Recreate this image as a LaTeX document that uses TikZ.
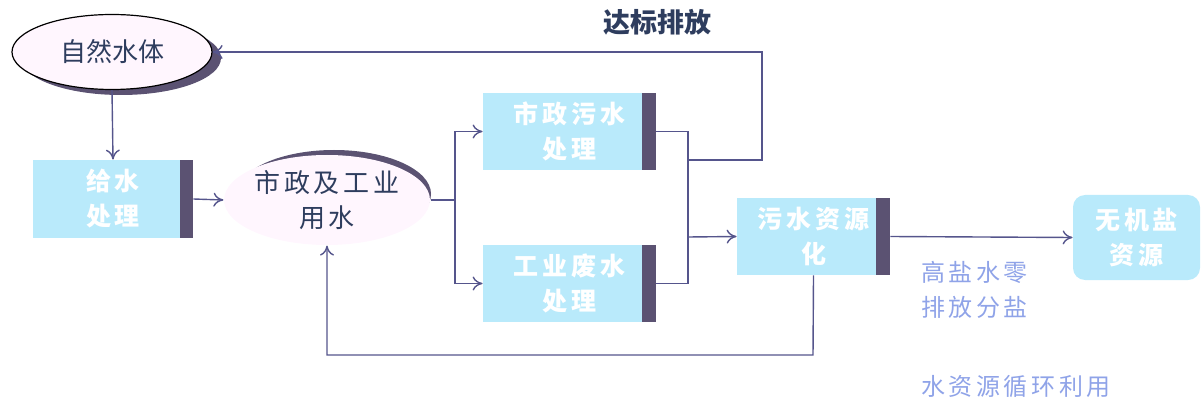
\documentclass[tikz,border=0pt]{standalone}
\usepackage{fontspec}
\setmainfont{Noto Sans CJK SC}
\newfontfamily\spaced{Noto Sans CJK SC}[LetterSpace=15]
\usetikzlibrary{shapes.geometric,arrows.meta}
\definecolor{boxc}{HTML}{B9EAFB}
\definecolor{shadc}{HTML}{5B5272}
\definecolor{linec}{HTML}{55558C}
\definecolor{labc}{HTML}{2E3D5E}
\definecolor{lblue}{HTML}{8FA3E8}
\definecolor{ellc}{HTML}{FFF6FE}
\tikzset{
  procbox/.style={rectangle, fill=boxc, inner sep=0pt, align=center, text=white,
    font=\spaced\fontsize{12.5}{17.5}\selectfont\bfseries},
  ellnode/.style={ellipse, fill=ellc, draw=black, line width=0.6pt, inner sep=0pt, align=center,
    text=labc, font=\fontsize{13}{17.5}\selectfont},
  conn/.style={draw=linec, line width=0.7pt},
  arr/.style={conn, -{To[length=5pt,width=7pt]}},
  note/.style={text=lblue, align=left, font=\spaced\fontsize{12}{17.5}\selectfont},
}
\begin{document}
\begin{tikzpicture}[x=0.5pt,y=-0.5pt]
\useasboundingbox (0,0) rectangle (1203,406);
% natural water body
\fill[shadc] (121,58) ellipse [x radius=100, y radius=37];
\node[ellnode, minimum width=100pt, minimum height=37.5pt] (nat) at (112,52) {自然水体};
% water supply treatment
\node[procbox, minimum width=80pt, minimum height=39pt] (gs) at (113,199) {给水\\处理};
\fill[shadc] ([xshift=-6.5pt]gs.north east) rectangle (gs.south east);
% municipal & industrial use
\fill[shadc] (334,194) ellipse [x radius=97, y radius=44];
\node[ellnode, draw=none, minimum width=98pt, minimum height=45pt, font=\spaced\fontsize{13}{17.5}\selectfont] (city) at (327,200) {市政及工业\\用水};
% municipal sewage treatment
\node[procbox, minimum width=86.5pt, minimum height=38.5pt] (mun) at (569.5,131.5) {市政污水\\处理};
\fill[shadc] ([xshift=-7pt]mun.north east) rectangle (mun.south east);
% industrial wastewater treatment
\node[procbox, minimum width=86.5pt, minimum height=38.5pt] (ind) at (569.5,283.5) {工业废水\\处理};
\fill[shadc] ([xshift=-7pt]ind.north east) rectangle (ind.south east);
% wastewater reuse
\node[procbox, minimum width=76.5pt, minimum height=38.5pt] (res) at (813.5,236.5) {污水资源\\化};
\fill[shadc] ([xshift=-7pt]res.north east) rectangle (res.south east);
% inorganic salt
\node[procbox, rounded corners=6pt, minimum width=63.5pt, minimum height=42.5pt] (salt) at (1136.5,237.5) {无机盐\\资源};
% labels
\node[text=labc, font=\fontsize{13.5}{17}\selectfont\bfseries] (lab1) at (657,22) {达标排放};
\node[note, anchor=west] (lab2) at (914,290) {高盐水零\\排放分盐};
\node[note, anchor=center] (lab3) at (1016,386) {水资源循环利用};
% connectors
\coordinate (j1) at (455,200);
\coordinate (j2) at (688,237);
\coordinate (b1) at (688,160);
\coordinate (c1) at (762,160);
\coordinate (d1) at (813,355);
\draw[arr] (nat.south) -- (gs.north);
\draw[arr] (gs.east) -- (city.west);
\draw[conn] (city.east) -- (j1);
\draw[arr] (j1) |- (mun.west);
\draw[arr] (j1) |- (ind.west);
\draw[conn] (mun.east) -| (j2);
\draw[conn] (ind.east) -| (j2);
\draw[arr] (j2) -- (res.west);
\draw[arr] (b1) -- (c1) |- (nat.east);
\draw[arr] (res.east) -- (salt.west);
\draw[arr] (res.south) -- (d1) -| (city.south);
\end{tikzpicture}
\end{document}
